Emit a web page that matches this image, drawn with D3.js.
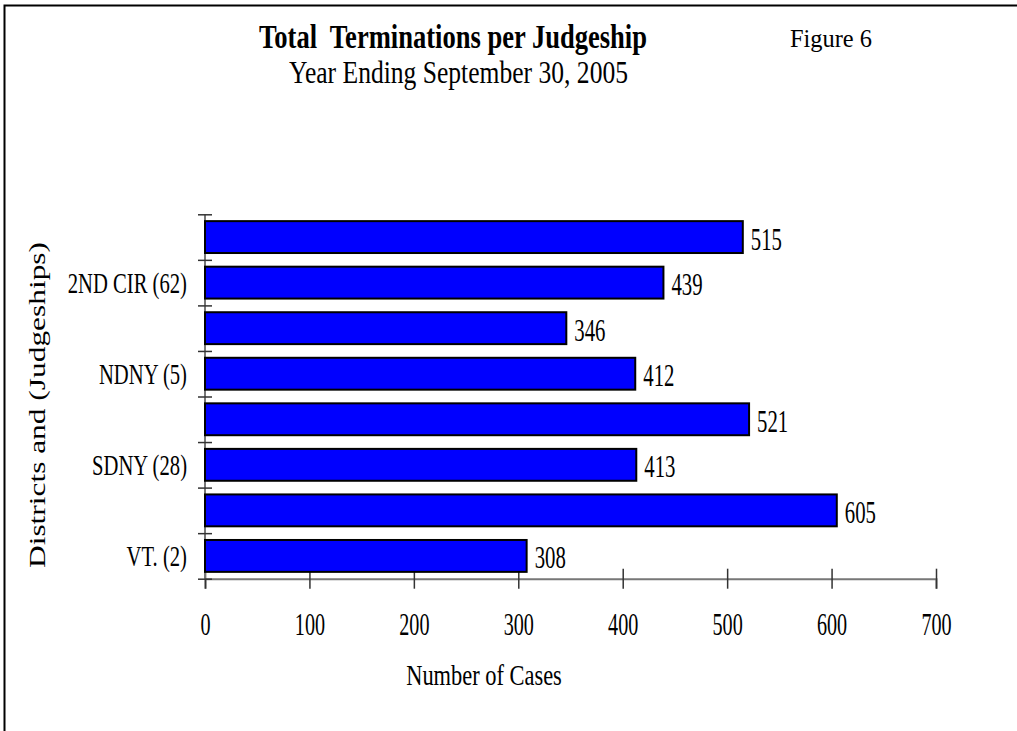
<!DOCTYPE html>
<html>
<head>
<meta charset="utf-8">
<script src="https://cdn.jsdelivr.net/npm/d3@7"></script>
<style>
  body { margin: 0; background: #fff; }
  text { font-family: "Liberation Serif", "Times New Roman", serif; fill: #000; }
</style>
</head>
<body>
<div id="chart"></div>
<script>
// categories from top to bottom, only every other one is labelled in the figure
const categories = ['', '2ND CIR (62)', '', 'NDNY (5)', '', 'SDNY (28)', '', 'VT. (2)'];
const values = [515, 439, 346, 412, 521, 413, 605, 308];
const xTicks = [0, 100, 200, 300, 400, 500, 600, 700];

const width = 1017, height = 731;
const margin = { top: 214.3, left: 205, right: 81, bottom: 152.3 },
    innerWidth = width - margin.left - margin.right,
    innerHeight = height - margin.top - margin.bottom;

const svg = d3.select('#chart')
    .append('svg')
    .attr('width', width)
    .attr('height', height);

// frame
svg.append('path')
    .attr('d', 'M4.5,731 V5.5 H1017')
    .attr('fill', 'none')
    .attr('stroke', '#000')
    .attr('stroke-width', 2);

// titles
svg.append('text')
    .attr('x', 259).attr('y', 48)
    .style('font-size', '33px').style('font-weight', 'bold').style('white-space', 'pre')
    .attr('textLength', 388).attr('lengthAdjust', 'spacingAndGlyphs')
    .text('Total  Terminations per Judgeship');

svg.append('text')
    .attr('x', 289).attr('y', 83)
    .style('font-size', '32px')
    .attr('textLength', 339).attr('lengthAdjust', 'spacingAndGlyphs')
    .text('Year Ending September 30, 2005');

svg.append('text')
    .attr('x', 790).attr('y', 47)
    .style('font-size', '25px')
    .attr('textLength', 82).attr('lengthAdjust', 'spacingAndGlyphs')
    .text('Figure 6');

const g = svg.append('g')
    .attr('transform', 'translate(' + margin.left + ',' + margin.top + ')');

// scales
const x = d3.scaleLinear()
    .domain([0, 700])
    .range([0, innerWidth]);

const y = d3.scaleBand()
    .domain(d3.range(categories.length))
    .range([0, innerHeight])
    .paddingInner(0.3)
    .paddingOuter(0.15);

const yEdges = d3.scaleLinear()
    .domain([0, categories.length])
    .range([0, innerHeight]);

// axes
const xAxisG = g.append('g')
    .attr('transform', 'translate(0,' + innerHeight + ')')
    .call(d3.axisBottom(x).tickValues(xTicks).tickSize(10).tickPadding(0).tickFormat(d3.format('d')));

xAxisG.select('.domain').attr('stroke', '#777').attr('stroke-width', 2);
xAxisG.selectAll('.tick line').attr('y1', -10).attr('y2', 10).attr('stroke', '#333').attr('stroke-width', 1.5);
xAxisG.selectAll('.tick text')
    .attr('y', 56).attr('dy', null)
    .attr('transform', 'scale(0.65,1)')
    .style('font-size', '31px').style('font-family', '"Liberation Serif", serif');

const yAxisG = g.append('g')
    .call(d3.axisLeft(yEdges).ticks(categories.length).tickSize(7).tickFormat(''));

yAxisG.select('.domain').attr('stroke', '#777').attr('stroke-width', 2).attr('d', 'M0,0V' + innerHeight);
yAxisG.selectAll('.tick line').attr('x1', -7).attr('x2', 7).attr('stroke', '#333').attr('stroke-width', 1.5);

// category labels
g.selectAll('.cat')
    .data(categories)
    .enter()
    .append('text')
    .attr('class', 'cat')
    .attr('transform', (d, i) => 'translate(-18,' + (y(i) + y.bandwidth() / 2 + 10) + ') scale(0.7,1)')
    .attr('text-anchor', 'end')
    .style('font-size', '29.5px')
    .text(d => d);

// bars
g.selectAll('.bar')
    .data(values)
    .enter()
    .append('rect')
    .attr('class', 'bar')
    .attr('x', 0)
    .attr('y', (d, i) => y(i))
    .attr('width', d => x(d))
    .attr('height', y.bandwidth())
    .attr('fill', '#0000ff')
    .attr('stroke', '#000')
    .attr('stroke-width', 2);

// value labels
g.selectAll('.val')
    .data(values)
    .enter()
    .append('text')
    .attr('class', 'val')
    .attr('transform', (d, i) => 'translate(' + (x(d) + 8) + ',' + (y(i) + y.bandwidth() / 2 + 12.5) + ') scale(0.67,1)')
    .style('font-size', '31px')
    .text(d => d);

// axis titles
svg.append('text')
    .attr('transform', 'translate(484,685) scale(0.76,1)')
    .attr('text-anchor', 'middle')
    .style('font-size', '29.5px')
    .text('Number of Cases');

svg.append('text')
    .attr('transform', 'translate(45,405) rotate(-90)')
    .attr('text-anchor', 'middle')
    .style('font-size', '23px')
    .attr('textLength', 326).attr('lengthAdjust', 'spacingAndGlyphs')
    .text('Districts and (Judgeships)');
</script>
</body>
</html>
